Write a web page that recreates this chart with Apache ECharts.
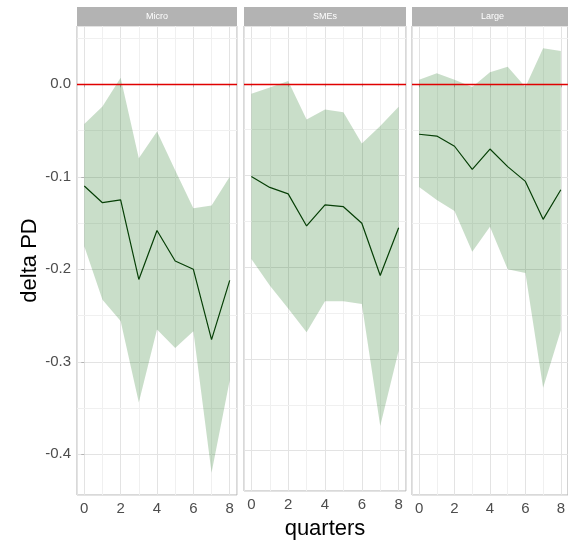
<!DOCTYPE html>
<html>
<head>
<meta charset="utf-8">
<script src="https://cdn.jsdelivr.net/npm/echarts@6/dist/echarts.min.js"></script>
<style>
html,body{margin:0;padding:0;background:#fff;}
#chart{width:568px;height:545px;}
</style>
</head>
<body>
<div id="chart"></div>
<script>
// ---- data ----
const panels = ['Micro', 'SMEs', 'Large'];
const quarters = [0, 1, 2, 3, 4, 5, 6, 7, 8];

const microMid   = [-0.110, -0.128, -0.125, -0.211, -0.158, -0.191, -0.200, -0.276, -0.212];
const microUpper = [-0.043, -0.024,  0.007, -0.080, -0.051, -0.093, -0.134, -0.131, -0.100];
const microLower = [-0.175, -0.233, -0.256, -0.344, -0.265, -0.285, -0.267, -0.420, -0.320];

const smesMid    = [-0.101, -0.113, -0.120, -0.155, -0.132, -0.134, -0.152, -0.209, -0.157];
const smesUpper  = [-0.011, -0.004,  0.003, -0.039, -0.028, -0.031, -0.065, -0.046, -0.025];
const smesLower  = [-0.191, -0.220, -0.245, -0.271, -0.237, -0.237, -0.240, -0.373, -0.291];

const largeMid   = [-0.054, -0.056, -0.067, -0.092, -0.070, -0.089, -0.105, -0.146, -0.114];
const largeUpper = [ 0.005,  0.012,  0.005, -0.003,  0.013,  0.019, -0.003,  0.039,  0.036];
const largeLower = [-0.111, -0.125, -0.137, -0.181, -0.154, -0.200, -0.204, -0.328, -0.266];

const yTicks = [0.0, -0.1, -0.2, -0.3, -0.4];
const yMinor = [0.05, -0.05, -0.15, -0.25, -0.35];
const xTicks = [0, 2, 4, 6, 8];
const xMinor = [1, 3, 5, 7];

const mids = [microMid, smesMid, largeMid];
const uppers = [microUpper, smesUpper, largeUpper];
const lowers = [microLower, smesLower, largeLower];

// ---- layout ----
const FONT = '"Liberation Sans", Arial, sans-serif';
const gridLefts = [77, 244, 412];
const gridWidth = [160, 162, 161];
const gridTop = 26, gridHeight = 469;
const stripTop = 7, stripH = 19;
const xMin = -0.4, xMax = 8.4;
const yMin = -0.444, yMax = 0.063;

const chart = echarts.init(document.getElementById('chart'), null, {renderer: 'canvas'});

const grids = [], xAxes = [], yAxes = [], series = [], graphics = [];
panels.forEach((name, i) => {
  grids.push({
    left: gridLefts[i], top: gridTop, width: gridWidth[i], height: gridHeight,
    show: true, borderColor: '#B3B3B3', borderWidth: 1, backgroundColor: '#fff', containLabel: false
  });
  xAxes.push({
    gridIndex: i, type: 'value', min: xMin, max: xMax,
    axisLine: {show: false},
    axisTick: {show: true, length: 3, lineStyle: {color: '#B3B3B3'}},
    axisLabel: {show: true, color: '#4D4D4D', fontSize: 15, fontFamily: FONT, margin: 6,
      showMinLabel: false, showMaxLabel: false,
      formatter: v => (xTicks.indexOf(v) >= 0 ? String(v) : '')},
    splitLine: {show: true, lineStyle: {color: '#E3E3E3', width: 1}},
    name: i === 1 ? 'quarters' : '',
    nameLocation: 'middle', nameGap: 27,
    nameTextStyle: {color: '#000', fontSize: 22, fontFamily: FONT}
  });
  yAxes.push({
    gridIndex: i, type: 'value', min: yMin, max: yMax,
    axisLine: {show: false},
    axisTick: {show: i === 0, length: 3, lineStyle: {color: '#B3B3B3'}},
    axisLabel: {show: i === 0, color: '#4D4D4D', fontSize: 15, fontFamily: FONT, margin: 6,
      showMinLabel: false, showMaxLabel: false,
      formatter: v => {
        const m = yTicks.find(t => Math.abs(t - v) < 1e-9);
        return m === undefined ? '' : m.toFixed(1);
      }},
    splitLine: {show: true, lineStyle: {color: '#E3E3E3', width: 1}},
    name: i === 0 ? 'delta PD' : '',
    nameLocation: 'middle', nameGap: 34,
    nameTextStyle: {color: '#000', fontSize: 22, fontFamily: FONT}
  });

  const bandData = quarters.map((q, k) => [q, lowers[i][k], uppers[i][k]]);
  const mid = quarters.map((q, k) => [q, mids[i][k]]);
  const minorLines = xMinor.map(v => ({xAxis: v})).concat(yMinor.map(v => ({yAxis: v})));

  series.push({
    type: 'custom', xAxisIndex: i, yAxisIndex: i, data: bandData,
    encode: {x: 0, y: [1, 2]},
    silent: true, z: 2, clip: true,
    renderItem: (params, api) => {
      if (params.dataIndex !== 0) return null;
      const pts = [];
      for (let k = 0; k < bandData.length; k++) pts.push(api.coord([bandData[k][0], bandData[k][2]]));
      for (let k = bandData.length - 1; k >= 0; k--) pts.push(api.coord([bandData[k][0], bandData[k][1]]));
      return {type: 'polygon', shape: {points: pts}, style: {fill: 'rgba(0,100,0,0.21)', stroke: null}};
    },
    markLine: {
      silent: true, symbol: 'none', z: 1, animation: false,
      label: {show: false},
      lineStyle: {color: '#F0F0F0', width: 1, type: 'solid'},
      data: minorLines
    }
  });
  series.push({
    type: 'line', xAxisIndex: i, yAxisIndex: i, data: mid,
    symbol: 'none', lineStyle: {color: '#063F06', width: 1.2}, z: 3,
    markLine: {
      silent: true, symbol: 'none', z: 4, animation: false,
      label: {show: false},
      lineStyle: {color: '#E00000', width: 1.3, type: 'solid'},
      data: [{yAxis: 0}]
    }
  });

  graphics.push({
    type: 'rect', left: gridLefts[i], top: stripTop,
    shape: {width: gridWidth[i], height: stripH},
    style: {fill: '#B3B3B3'}, silent: true
  });
  graphics.push({
    type: 'text', x: gridLefts[i] + gridWidth[i] / 2, y: stripTop + stripH / 2,
    style: {text: name, fill: '#fff', font: '9px ' + FONT, textAlign: 'center', textVerticalAlign: 'middle'},
    silent: true
  });
});

chart.setOption({
  animation: false,
  backgroundColor: '#fff',
  grid: grids,
  xAxis: xAxes,
  yAxis: yAxes,
  series: series,
  graphic: graphics
});
</script>
</body>
</html>
